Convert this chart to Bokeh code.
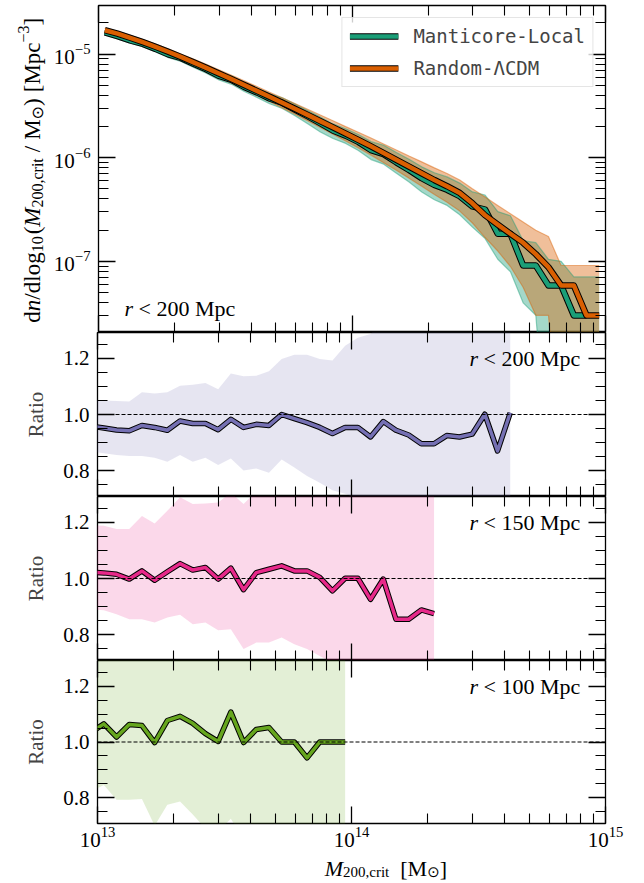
import numpy as np
from math import pi
from bokeh.plotting import figure
from bokeh.layouts import column, row
from bokeh.models import (LogAxis, LinearAxis, FixedTicker, Label, Span, Legend,
                          LegendItem, PrintfTickFormatter, Range1d)
from bokeh.embed import file_html
from bokeh.resources import INLINE

# ------------------------------------------------------------------ data
hmf_log_mass = [13.025, 13.075, 13.125, 13.175, 13.225, 13.275, 13.325, 13.375, 13.425, 13.475,
                13.525, 13.575, 13.625, 13.675, 13.725, 13.775, 13.825, 13.875, 13.925, 13.975,
                14.025, 14.075, 14.125, 14.175, 14.225, 14.275, 14.325, 14.375, 14.425, 14.475,
                14.525, 14.575, 14.625, 14.675, 14.725, 14.775, 14.825, 14.875, 14.925, 14.975]

random_log_n = [-4.770, -4.803, -4.843, -4.885, -4.930, -4.978, -5.028, -5.080, -5.133, -5.187,
                -5.242, -5.298, -5.355, -5.412, -5.470, -5.528, -5.587, -5.647, -5.707, -5.767,
                -5.828, -5.890, -5.955, -6.020, -6.085, -6.150, -6.215, -6.275, -6.340, -6.440,
                -6.555, -6.645, -6.734, -6.820, -6.930, -7.056, -7.232, -7.232, -7.521, -7.521]
random_log_n_hi = [-4.750, -4.781, -4.820, -4.860, -4.904, -4.950, -4.999, -5.049, -5.100, -5.152,
                   -5.205, -5.259, -5.313, -5.368, -5.423, -5.478, -5.533, -5.588, -5.644, -5.700,
                   -5.755, -5.810, -5.868, -5.925, -5.983, -6.040, -6.098, -6.152, -6.215, -6.300,
                   -6.380, -6.460, -6.540, -6.620, -6.700, -6.760, -7.040, -7.040, -7.040, -7.040]
random_log_n_lo = [-4.792, -4.826, -4.867, -4.910, -4.957, -5.006, -5.058, -5.112, -5.167, -5.223,
                   -5.280, -5.338, -5.398, -5.458, -5.519, -5.580, -5.643, -5.708, -5.773, -5.838,
                   -5.905, -5.975, -6.048, -6.122, -6.197, -6.275, -6.355, -6.430, -6.515, -6.630,
                   -6.770, -6.900, -7.050, -7.250, -7.520, -7.520, -9.000, -9.000, -9.000, -9.000]

manticore_log_n = [-4.791, -4.828, -4.869, -4.902, -4.950, -5.003, -5.038, -5.094, -5.147, -5.211,
                   -5.249, -5.318, -5.370, -5.429, -5.470, -5.535, -5.600, -5.667, -5.738, -5.787,
                   -5.848, -5.926, -5.966, -6.045, -6.118, -6.198, -6.263, -6.309, -6.371, -6.470,
                   -6.500, -6.734, -6.734, -7.040, -7.040, -7.232, -7.232, -7.521, -7.521]
manticore_log_n_hi = [-4.770, -4.806, -4.845, -4.877, -4.923, -4.975, -5.008, -5.062, -5.113, -5.175,
                      -5.210, -5.278, -5.327, -5.384, -5.422, -5.482, -5.545, -5.608, -5.674, -5.720,
                      -5.776, -5.845, -5.880, -5.950, -6.015, -6.088, -6.145, -6.185, -6.245, -6.330,
                      -6.360, -6.520, -6.560, -6.800, -6.820, -6.980, -7.000, -7.150, -7.150, -7.150]
manticore_log_n_lo = [-4.815, -4.853, -4.895, -4.930, -4.980, -5.034, -5.072, -5.130, -5.185, -5.250,
                      -5.292, -5.362, -5.418, -5.480, -5.525, -5.595, -5.672, -5.752, -5.815, -5.862,
                      -5.930, -6.018, -6.062, -6.150, -6.235, -6.330, -6.405, -6.460, -6.550, -6.670,
                      -6.780, -6.980, -7.100, -7.400, -7.520, -9.000, -9.000, -9.000, -9.000, -9.000]

ratio_log_mass = [12.975, 13.025, 13.075, 13.125, 13.175, 13.225, 13.275, 13.325, 13.375, 13.425,
                  13.475, 13.525, 13.575, 13.625, 13.675, 13.725, 13.775, 13.825, 13.875, 13.925,
                  13.975, 14.025, 14.075, 14.125, 14.175, 14.225, 14.275, 14.325, 14.375, 14.425,
                  14.475, 14.525, 14.575, 14.625]

ratio_200 = [0.958, 0.952, 0.945, 0.942, 0.961, 0.954, 0.944, 0.977, 0.968, 0.968,
             0.946, 0.983, 0.954, 0.965, 0.961, 1.000, 0.985, 0.971, 0.954, 0.932,
             0.954, 0.954, 0.920, 0.975, 0.944, 0.927, 0.896, 0.896, 0.925, 0.920,
             0.930, 1.001, 0.870, 1.006]
ratio_200_hi = [1.055, 1.050, 1.048, 1.046, 1.079, 1.075, 1.079, 1.102, 1.106, 1.112,
                1.090, 1.146, 1.136, 1.138, 1.154, 1.198, 1.213, 1.213, 1.198, 1.192,
                1.245, 1.273, 1.287, 1.330, 1.350, 1.360, 1.400, 1.420, 1.400, 1.450,
                1.500, 1.600, 1.500, 1.700]
ratio_200_lo = [0.868, 0.862, 0.856, 0.852, 0.852, 0.846, 0.832, 0.856, 0.832, 0.846,
                0.820, 0.843, 0.801, 0.808, 0.793, 0.840, 0.811, 0.781, 0.757, 0.730,
                0.718, 0.700, 0.660, 0.650, 0.620, 0.600, 0.550, 0.550, 0.500, 0.500,
                0.450, 0.450, 0.350, 0.350]

ratio_150 = [1.022, 1.020, 1.015, 0.998, 1.027, 0.994, 1.024, 1.053, 1.030, 1.039,
             0.998, 1.037, 0.960, 1.021, 1.033, 1.045, 1.027, 1.027, 1.004, 0.956,
             1.001, 1.001, 0.926, 0.998, 0.855, 0.855, 0.888, 0.875]
ratio_150_hi = [1.190, 1.188, 1.176, 1.176, 1.223, 1.196, 1.241, 1.289, 1.265, 1.267,
                1.271, 1.306, 1.265, 1.310, 1.330, 1.350, 1.360, 1.380, 1.400, 1.420,
                1.450, 1.470, 1.500, 1.550, 1.600, 1.650, 1.700, 1.750]
ratio_150_lo = [0.890, 0.887, 0.873, 0.855, 0.855, 0.843, 0.861, 0.871, 0.837, 0.843,
                0.816, 0.819, 0.749, 0.772, 0.772, 0.790, 0.766, 0.749, 0.724, 0.700,
                0.680, 0.660, 0.620, 0.600, 0.550, 0.520, 0.500, 0.480]

ratio_100 = [1.035, 1.065, 1.018, 1.063, 1.059, 0.998, 1.077, 1.092, 1.067, 1.030,
             1.002, 1.107, 0.998, 1.045, 1.052, 1.000, 1.000, 0.943, 1.000, 1.000, 1.000]
ratio_100_hi = [1.320, 1.330, 1.310, 1.350, 1.360, 1.340, 1.380, 1.400, 1.420, 1.400,
                1.450, 1.500, 1.450, 1.520, 1.550, 1.580, 1.600, 1.620, 1.660, 1.700, 1.750]
ratio_100_lo = [0.822, 0.846, 0.793, 0.793, 0.796, 0.700, 0.775, 0.787, 0.740, 0.690,
                0.680, 0.725, 0.650, 0.620, 0.600, 0.550, 0.550, 0.500, 0.500, 0.450, 0.450]

series_names = ["Manticore-Local", "Random-\u039bCDM"]
radius_labels = ["200", "150", "100"]

x_major = [1e13, 1e14, 1e15]
x_minor = [m * 10.0 ** e for e in (13, 14) for m in range(2, 10)]
y_top_major = [1e-7, 1e-6, 1e-5]
y_top_minor = [m * 10.0 ** e for e in (-8, -7, -6, -5) for m in range(2, 10)]
ratio_major = [0.8, 1.0, 1.2]
ratio_minor = [0.75, 0.85, 0.9, 0.95, 1.05, 1.1, 1.15, 1.25]

# ------------------------------------------------------------------ style
TEAL = "#1b9e77"
ORANGE = "#d95f02"
RATIO_COLORS = ["#7570b3", "#e7298a", "#66a61e"]
SERIF = "Liberation Serif"
SYMB = "DejaVu Sans"

X_RANGE = (1e13, 1e15)
TOP_Y_RANGE = (2.06e-8, 2.94e-5)
RATIO_Y_RANGE = (0.708, 1.292)
LEFT, RIGHT = 97, 39
YLAB_W = 50
BASE_FIX = 7  # rendered baseline sits this much lower than requested

EM = {'d': 0.5, 'n': 0.5, '/': 0.278, 'l': 0.278, 'o': 0.5, 'g': 0.5, '0': 0.5, '1': 0.5,
      '2': 0.5, '3': 0.5, '5': 0.5, '(': 0.333, ')': 0.333, 'M': 0.889, ',': 0.25, 'c': 0.444,
      'r': 0.333, 'i': 0.278, 't': 0.278, ' ': 0.25, '[': 0.333, ']': 0.333, 'p': 0.5,
      '\u2212': 0.564, '\u2299': 0.84, '<': 0.564}
EM_IT = {'M': 0.833, 'n': 0.5, 'r': 0.389}


def text_width(s, size, italic):
    tab = EM_IT if italic else {}
    return sum(tab.get(ch, EM.get(ch, 0.5)) for ch in s) * size


def add_text_run(p, pieces, x, y, x0, y0, vertical=False):
    """pieces: (text, size, italic, baseline shift (+ = down), font, gap before in px)"""
    pos = 0.0
    for txt, size, italic, shift, font, gap in pieces:
        pos += gap
        if vertical:
            xo, yo = x0 + shift - BASE_FIX, y0 + pos
        else:
            xo, yo = x0 + pos, y0 - shift + BASE_FIX
        p.add_layout(Label(x=x, y=y, x_offset=xo, y_offset=yo, text=txt,
                           angle=pi / 2 if vertical else 0.0,
                           text_font=font, text_font_size=f"{size}px",
                           text_font_style="italic" if italic else "normal",
                           text_color="black", text_align="left",
                           text_baseline="alphabetic"))
        pos += text_width(txt, size, italic)


def style_axis(ax, ticks, minor, show_labels, standoff=8):
    ax.ticker = FixedTicker(ticks=ticks, minor_ticks=minor)
    ax.axis_line_color = None
    ax.major_tick_in = 17
    ax.major_tick_out = 0
    ax.minor_tick_in = 10
    ax.minor_tick_out = 0
    ax.major_tick_line_color = "black"
    ax.minor_tick_line_color = "black"
    ax.major_tick_line_width = 1.3
    ax.minor_tick_line_width = 1.1
    ax.major_label_text_font = SERIF
    if show_labels:
        ax.major_label_text_color = "black"
        ax.major_label_text_font_size = "21px"
        ax.major_label_standoff = standoff
    else:
        ax.major_label_text_color = None
        ax.major_label_text_font_size = "0px"
        ax.major_label_standoff = 0


def base_fig(width, left, height, y_range, y_log, top, bottom, show_x_labels):
    p = figure(width=width, height=height, x_axis_type="log",
               y_axis_type="log" if y_log else "linear",
               x_range=Range1d(*X_RANGE), y_range=Range1d(*y_range),
               output_backend="svg", toolbar_location=None,
               min_border_left=left, min_border_right=RIGHT,
               min_border_top=top, min_border_bottom=bottom)
    p.xgrid.visible = False
    p.ygrid.visible = False
    p.outline_line_color = "black"
    p.outline_line_width = 1.3
    p.background_fill_color = "white"
    p.border_fill_color = "white"
    p.add_layout(LogAxis() if y_log else LinearAxis(), "right")
    p.add_layout(LogAxis(), "above")
    style_axis(p.below[0], x_major, x_minor, show_x_labels, standoff=3)
    style_axis(p.above[0], x_major, x_minor, False)
    if y_log:
        style_axis(p.left[0], y_top_major, y_top_minor, True)
        style_axis(p.right[0], y_top_major, y_top_minor, False)
    else:
        style_axis(p.left[0], ratio_major, ratio_minor, True)
        style_axis(p.right[0], ratio_major, ratio_minor, False)
        p.left[0].formatter = PrintfTickFormatter(format="%.1f")
        p.left[0].axis_label = "Ratio"
        p.left[0].axis_label_text_font = SERIF
        p.left[0].axis_label_text_font_style = "normal"
        p.left[0].axis_label_text_font_size = "21px"
        p.left[0].axis_label_standoff = 12
    return p


def text_fig(width, height):
    f = figure(width=width, height=height, x_range=Range1d(0, width), y_range=Range1d(0, height),
               output_backend="svg", toolbar_location=None,
               x_axis_location=None, y_axis_location=None,
               min_border_left=0, min_border_right=0, min_border_top=0, min_border_bottom=0)
    f.xgrid.visible = False
    f.ygrid.visible = False
    f.outline_line_color = None
    f.background_fill_color = "white"
    f.border_fill_color = "white"
    return f


# ------------------------------------------------------------------ top panel
p0 = base_fig(644 - YLAB_W, LEFT - YLAB_W, 332, TOP_Y_RANGE, True, 5, 0, False)

mx = 10.0 ** np.array(hmf_log_mass)
r_n = 10.0 ** np.array(random_log_n)
r_hi = 10.0 ** np.array(random_log_n_hi)
r_lo = 10.0 ** np.array(random_log_n_lo)
m_n = 10.0 ** np.array(manticore_log_n)
m_hi = 10.0 ** np.array(manticore_log_n_hi)
m_lo = 10.0 ** np.array(manticore_log_n_lo)

p0.varea(x=mx, y1=m_lo, y2=m_hi, fill_color=TEAL, fill_alpha=0.4)
p0.varea(x=mx, y1=r_lo, y2=r_hi, fill_color=ORANGE, fill_alpha=0.4)
for arr, c in ((m_hi, TEAL), (m_lo, TEAL), (r_hi, ORANGE), (r_lo, ORANGE)):
    p0.line(mx, arr, line_color=c, line_alpha=0.45, line_width=1.2)

mt_b = p0.line(mx[:len(m_n)], m_n, line_color="black", line_width=6.5, line_join="round")
mt = p0.line(mx[:len(m_n)], m_n, line_color=TEAL, line_width=4.5, line_join="round")
ro_b = p0.line(mx, r_n, line_color="black", line_width=6.5, line_join="round")
ro = p0.line(mx, r_n, line_color=ORANGE, line_width=4.5, line_join="round")

legend = Legend(items=[LegendItem(label=series_names[0], renderers=[mt_b, mt]),
                       LegendItem(label=series_names[1], renderers=[ro_b, ro])],
                location="top_right", margin=12, padding=7, spacing=10,
                glyph_width=49, glyph_height=22, label_height=22, label_standoff=15,
                label_text_font="DejaVu Sans Mono", label_text_font_size="19px",
                border_line_color="#cccccc", border_line_width=1,
                background_fill_color="white", background_fill_alpha=0.8)
p0.add_layout(legend)

add_text_run(p0, [("r", 22, True, 0, SERIF, 0), ("<", 22, False, 0, SERIF, 5.5),
                  ("200 Mpc", 22, False, 0, SERIF, 5.5)],
             X_RANGE[0], TOP_Y_RANGE[0], 26, 17)

# y-axis label of the top panel, in its own strip
ylab = text_fig(YLAB_W, 332)
ylabel_pieces = [("d", 23, False, 0, SERIF, 0), ("n", 23, True, 0, SERIF, 0),
                 ("/dlog", 23, False, 0, SERIF, 0), ("10", 16, False, 5, SERIF, 0),
                 ("(", 23, False, 0, SERIF, 2), ("M", 23, True, 0, SERIF, 0),
                 ("200,crit", 16, False, 5, SERIF, 0), ("/", 23, False, 0, SERIF, 6),
                 ("M", 23, False, 0, SERIF, 6), ("\u2299", 16, False, 5, SYMB, 0),
                 (")", 23, False, 0, SERIF, 0), ("[Mpc", 23, False, 0, SERIF, 6),
                 ("\u22123", 16, False, -9, SERIF, 0), ("]", 23, False, 0, SERIF, 0)]
add_text_run(ylab, ylabel_pieces, 39, 10, 0, 0, vertical=True)

# ------------------------------------------------------------------ ratio panels
ratio_sets = [(ratio_200, ratio_200_hi, ratio_200_lo),
              (ratio_150, ratio_150_hi, ratio_150_lo),
              (ratio_100, ratio_100_hi, ratio_100_lo)]
panels = [row(ylab, p0, spacing=0)]
for i, (rv, rhi, rlo) in enumerate(ratio_sets):
    last = i == 2
    p = base_fig(644, LEFT, 193 if last else 164, RATIO_Y_RANGE, False, 0, 30 if last else 0, last)
    rx = 10.0 ** np.array(ratio_log_mass[:len(rv)])
    col = RATIO_COLORS[i]
    p.varea(x=rx, y1=rlo, y2=rhi, fill_color=col, fill_alpha=0.18)
    p.line(rx, rv, line_color="black", line_width=5.5, line_join="round")
    p.line(rx, rv, line_color=col, line_width=3.5, line_join="round")
    p.add_layout(Span(location=1.0, dimension="width", line_color="black",
                      line_dash="4 2", line_width=1))
    add_text_run(p, [("r", 22, True, 0, SERIF, 0), ("<", 22, False, 0, SERIF, 5.5),
                     (radius_labels[i] + " Mpc", 22, False, 0, SERIF, 5.5)],
                 X_RANGE[0], RATIO_Y_RANGE[1], 372, -33)
    panels.append(p)

# x-axis label strip
xlab = text_fig(644, 30)
xlabel_pieces = [("M", 22, True, 0, SERIF, 0), ("200,crit", 15, False, 3, SERIF, 0),
                 ("[M", 22, False, 0, SERIF, 11), ("\u2299", 15, False, 3, SYMB, 0),
                 ("]", 22, False, 0, SERIF, 0)]
add_text_run(xlab, xlabel_pieces, 288, 8, 0, 0)
panels.append(xlab)

layout = column(*panels, spacing=0)
open("out.html", "w").write(file_html(layout, INLINE))
